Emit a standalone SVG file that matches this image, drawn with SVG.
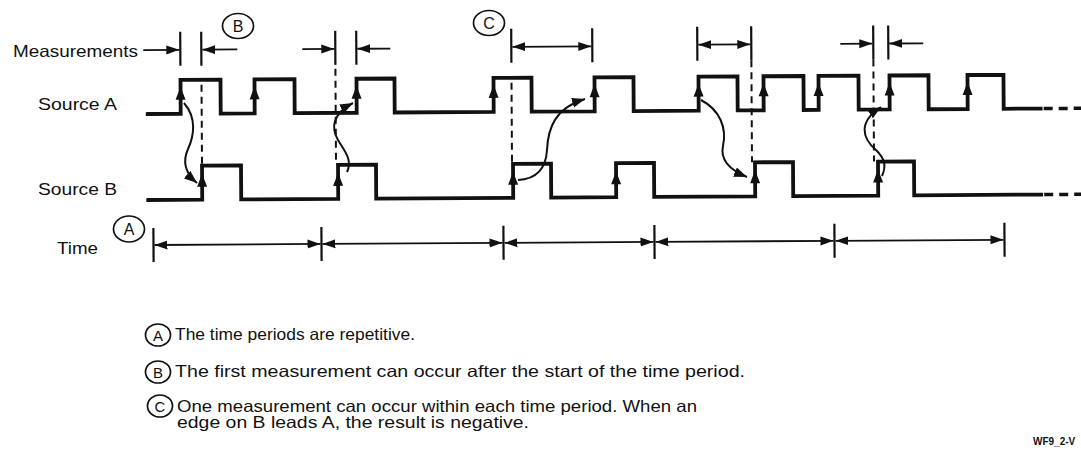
<svg xmlns="http://www.w3.org/2000/svg" width="1081" height="454" viewBox="0 0 1081 454">
<style>
text { font-family: "Liberation Sans", Arial, Helvetica, sans-serif; fill: #111; }
.lbl { font-size: 16.5px; }
.cl { font-size: 16px; text-anchor: middle; }
.wave { fill: none; stroke: #111; stroke-width: 3.8; stroke-linejoin: miter; stroke-linecap: square; }
.dots { fill: none; stroke: #111; stroke-width: 3.5; stroke-dasharray: 9 6; }
.tick { stroke: #111; stroke-width: 2.2; }
.dash { stroke: #111; stroke-width: 2; stroke-dasharray: 7 5; }
.arr { stroke: #111; stroke-width: 1.8; fill: none; marker-end: url(#ah); }
.darr { stroke: #111; stroke-width: 1.8; fill: none; marker-start: url(#ah); marker-end: url(#ah); }
.curve { stroke: #111; stroke-width: 2; fill: none; marker-end: url(#ch); }
.circ { fill: none; stroke: #111; stroke-width: 1.7; }
</style>
<defs>
<marker id="ah" markerUnits="userSpaceOnUse" markerWidth="14" markerHeight="10" refX="13" refY="5" orient="auto-start-reverse"><path d="M0,0.5 L13,5 L0,9.5 z" fill="#111"/></marker>
<marker id="ch" markerUnits="userSpaceOnUse" markerWidth="14" markerHeight="11" refX="13" refY="5.5" orient="auto"><path d="M0,0.5 L13,5.5 L0,10.5 z" fill="#111"/></marker>
<path id="up" d="M0,0 L5,13 L-5,13 z" fill="#111"/>
</defs>
<rect width="1081" height="454" fill="#fff"/>

<g id="labels" class="lbl">
<text x="13" y="57" textLength="125" lengthAdjust="spacingAndGlyphs">Measurements</text>
<text x="38" y="110" textLength="79" lengthAdjust="spacingAndGlyphs">Source A</text>
<text x="38" y="195" textLength="79" lengthAdjust="spacingAndGlyphs">Source B</text>
<text x="57" y="254" textLength="41" lengthAdjust="spacingAndGlyphs">Time</text>
</g>

<g transform="rotate(-0.35 150 0)">
<g id="sourceA">
<path class="wave" d="M147,114 H180 V80 H220 V114 H254 V80 H294 V114 H356 V80 H394 V114 H493 V80 H531 V114 H594 V80 H633 V114 H698 V80 H737 V114 H763 V80 H803 V114 H818 V80 H858 V114 H889 V80 H928 V114 H967 V80 H1003 V114 H1040"/>
<path class="dots" d="M1043,114 H1081"/>
<use href="#up" x="180" y="87"/><use href="#up" x="254" y="87"/><use href="#up" x="356" y="87"/>
<use href="#up" x="493" y="87"/><use href="#up" x="594" y="87"/><use href="#up" x="698" y="87"/>
<use href="#up" x="763" y="87"/><use href="#up" x="818" y="87"/><use href="#up" x="889" y="87"/>
<use href="#up" x="967" y="87"/>
</g>
<g id="sourceB">
<path class="wave" d="M147,200 H201 V166 H240 V200 H337 V166 H375 V200 H512 V166 H550 V200 H615 V166 H653 V200 H754 V166 H792 V200 H877 V166 H913 V200 H1040"/>
<path class="dots" d="M1043,200 H1081"/>
<use href="#up" x="201" y="174"/><use href="#up" x="337" y="174"/><use href="#up" x="512" y="174"/>
<use href="#up" x="615" y="174"/><use href="#up" x="754" y="174"/><use href="#up" x="877" y="174"/>
</g>
<g id="time">
<line class="tick" x1="152" y1="228" x2="152" y2="262"/>
<line class="tick" x1="320" y1="228" x2="320" y2="262"/>
<line class="tick" x1="502" y1="228" x2="502" y2="262"/>
<line class="tick" x1="653" y1="228" x2="653" y2="262"/>
<line class="tick" x1="833" y1="228" x2="833" y2="262"/>
<line class="tick" x1="1003" y1="228" x2="1003" y2="262"/>
<line class="darr" x1="153" y1="245" x2="319" y2="245"/>
<line class="darr" x1="321" y1="245" x2="501" y2="245"/>
<line class="darr" x1="503" y1="245" x2="652" y2="245"/>
<line class="darr" x1="654" y1="245" x2="832" y2="245"/>
<line class="darr" x1="834" y1="245" x2="1002" y2="245"/>
</g>
<g id="measurements">
<line class="tick" x1="180" y1="32" x2="180" y2="66"/>
<line class="tick" x1="201" y1="32" x2="201" y2="66"/>
<line class="arr" x1="143" y1="50" x2="179" y2="50"/>
<line class="arr" x1="237" y1="50" x2="202" y2="50"/>
<line class="tick" x1="335" y1="32" x2="335" y2="66"/>
<line class="tick" x1="356" y1="32" x2="356" y2="66"/>
<line class="arr" x1="302" y1="50" x2="334" y2="50"/>
<line class="arr" x1="390" y1="50" x2="357" y2="50"/>
<line class="tick" x1="511" y1="31" x2="511" y2="65"/>
<line class="tick" x1="592" y1="31" x2="592" y2="65"/>
<line class="darr" x1="512" y1="49" x2="591" y2="49"/>
<line class="tick" x1="697" y1="30" x2="697" y2="64"/>
<line class="tick" x1="751" y1="30" x2="751" y2="64"/>
<line class="darr" x1="698" y1="48" x2="750" y2="48"/>
<line class="tick" x1="873" y1="30" x2="873" y2="64"/>
<line class="tick" x1="888" y1="30" x2="888" y2="64"/>
<line class="arr" x1="840" y1="48" x2="872" y2="48"/>
<line class="arr" x1="923" y1="48" x2="889" y2="48"/>
</g>
<g id="guides">
<line class="dash" x1="201" y1="85" x2="201" y2="166"/>
<line class="dash" x1="335" y1="70" x2="335" y2="166"/>
<line class="dash" x1="511" y1="85" x2="511" y2="166"/>
<line class="dash" x1="751" y1="64" x2="751" y2="166"/>
<line class="dash" x1="873" y1="64" x2="873" y2="166"/>
</g>
</g>

<g id="connectors">
<path class="curve" d="M184,103 C197,118 194,136 188,149 C183,160 184,172 197,183"/>
<path class="curve" d="M347,172 C353,160 344,150 338,140 C331,128 332,114 353,103"/>
<path class="curve" d="M518,180 C538,179 546,167 547,150 C548,128 555,108 585,99"/>
<path class="curve" d="M701,100 C720,110 727,128 723,146 C720,160 730,170 747,177"/>
<path class="curve" d="M882,176 C887,165 884,158 876,150 C862,138 858,122 881,107"/>
</g>

<g id="calloutB">
<ellipse class="circ" cx="238" cy="26" rx="15.5" ry="12.5"/>
<text class="cl" x="238" y="32">B</text>
</g>
<g id="calloutC">
<ellipse class="circ" cx="489" cy="23" rx="15.5" ry="12.5"/>
<text class="cl" x="489" y="29">C</text>
</g>
<g id="calloutA">
<ellipse class="circ" cx="129" cy="229" rx="15.5" ry="13"/>
<text class="cl" x="129" y="235">A</text>
</g>

<g id="legend" class="lbl">
<g id="legendA">
<ellipse class="circ" cx="158" cy="335" rx="12.5" ry="11"/>
<text class="cl" style="font-size:15px" x="158" y="340.5">A</text>
<text x="175" y="340" textLength="240" lengthAdjust="spacingAndGlyphs">The time periods are repetitive.</text>
</g>
<g id="legendB">
<ellipse class="circ" cx="158" cy="372" rx="12.5" ry="11"/>
<text class="cl" style="font-size:15px" x="158" y="377.5">B</text>
<text x="175" y="377" textLength="570" lengthAdjust="spacingAndGlyphs">The first measurement can occur after the start of the time period.</text>
</g>
<g id="legendC">
<ellipse class="circ" cx="160" cy="406" rx="12.5" ry="11"/>
<text class="cl" style="font-size:15px" x="160" y="411.5">C</text>
<text x="177" y="412" textLength="520" lengthAdjust="spacingAndGlyphs">One measurement can occur within each time period. When an</text>
<text x="177" y="428" textLength="352" lengthAdjust="spacingAndGlyphs">edge on B leads A, the result is negative.</text>
</g>
</g>

<text id="figid" x="1033" y="445" style="font-size:10px;font-weight:bold">WF9_2-V</text>
</svg>
